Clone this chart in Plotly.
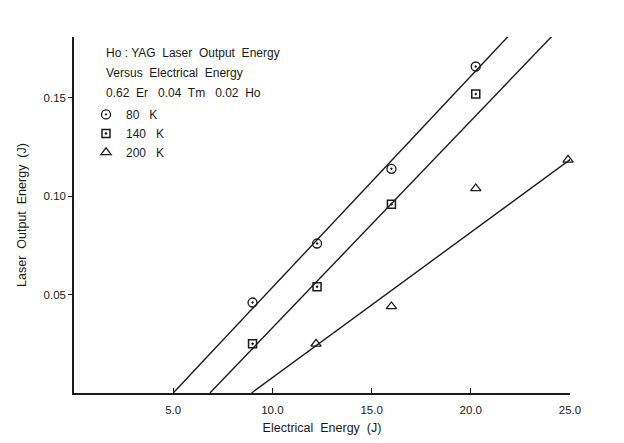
import plotly.graph_objects as go

# Data
x_80 = [9.0, 12.25, 16.0, 20.25]
y_80 = [0.046, 0.076, 0.114, 0.166]
x_140 = [9.0, 12.25, 16.0, 20.25, 24.9]
y_140 = [0.025, 0.054, 0.096, 0.152, 0.1855]
x_200 = [12.2, 16.0, 20.25, 24.9]
y_200 = [0.025, 0.044, 0.104, 0.1185]

fit_80_x = [5.0, 21.9]
fit_80_y = [0.0, 0.1815]
fit_140_x = [6.85, 24.1]
fit_140_y = [0.0, 0.1815]
fit_200_x = [8.95, 25.25]
fit_200_y = [0.0, 0.1205]

x_ticks = [5, 10, 15, 20, 25]
x_tick_labels = ["5.0", "10.0", "15.0", "20.0", "25.0"]
y_ticks = [0.05, 0.10, 0.15]
y_tick_labels = ["0.05", "0.10", "0.15"]

title_lines = ["Ho : YAG  Laser  Output  Energy",
               "Versus  Electrical  Energy",
               "0.62  Er   0.04  Tm   0.02  Ho"]
series_names = ["80   K", "140   K", "200   K"]

FONT = "Liberation Sans, Arial, sans-serif"
ink = "#1a1a1a"

# page body has an 8px margin; figure sized to fit inside the window
OFF = 8
W, H = 608, 427
L, T = 74 - OFF, 37 - OFF
R = W - (570 - OFF)
B = H - (393.5 - OFF)
pw, ph = W - L - R, H - T - B


def page_to_paper(xp, yp):
    return (xp - OFF - L) / pw, (H - B - (yp - OFF)) / ph


fig = go.Figure()
for fx, fy in [(fit_80_x, fit_80_y), (fit_140_x, fit_140_y), (fit_200_x, fit_200_y)]:
    fig.add_trace(go.Scatter(x=fx, y=fy, mode="lines", line=dict(color=ink, width=1.4),
                             showlegend=False, hoverinfo="skip"))

fig.add_trace(go.Scatter(x=x_80, y=y_80, mode="markers", name=series_names[0],
                         marker=dict(symbol="circle-open-dot", size=9, color=ink, line=dict(width=1.3)),
                         cliponaxis=False))
fig.add_trace(go.Scatter(x=x_140, y=y_140, mode="markers", name=series_names[1],
                         marker=dict(symbol="square-open-dot", size=8, color=ink, line=dict(width=1.5)),
                         cliponaxis=False))
fig.add_trace(go.Scatter(x=x_200, y=y_200, mode="markers", name=series_names[2],
                         marker=dict(symbol="triangle-up-open", size=9, color=ink, line=dict(width=1.3)),
                         cliponaxis=False))

for i, t in enumerate(title_lines):
    ax, ay = page_to_paper(104, 53 + 20 * i)
    fig.add_annotation(x=ax, y=ay, xref="paper", yref="paper", text=t,
                       showarrow=False, xanchor="left", yanchor="middle",
                       font=dict(family=FONT, size=12, color=ink))

lx, ly = page_to_paper(86, 100)
fig.update_layout(
    width=W, height=H,
    margin=dict(l=L, r=R, t=T, b=B, autoexpand=False),
    paper_bgcolor="white", plot_bgcolor="white",
    font=dict(family=FONT, size=11, color=ink),
    showlegend=True,
    legend=dict(x=lx, y=ly, xref="paper", yref="paper",
                xanchor="left", yanchor="top",
                font=dict(family=FONT, size=12, color=ink),
                bgcolor="rgba(0,0,0,0)", itemwidth=30, tracegroupgap=0),
    xaxis=dict(range=[0, 25], tickvals=x_ticks, ticktext=x_tick_labels,
               showgrid=False, zeroline=False, showline=True, linecolor=ink, linewidth=2,
               ticks="inside", ticklen=5, tickcolor=ink, tickwidth=1.2,
               ticklabelstandoff=5,
               title=dict(text="Electrical  Energy  (J)", font=dict(family=FONT, size=12.5), standoff=18),
               tickfont=dict(family=FONT, size=11.5)),
    yaxis=dict(range=[0, 0.181], tickvals=y_ticks, ticktext=y_tick_labels,
               showgrid=False, zeroline=False, showline=True, linecolor=ink, linewidth=1.5,
               ticks="outside", ticklen=4, tickcolor=ink, tickwidth=1.2,
               title=dict(text="Laser  Output  Energy  (J)", font=dict(family=FONT, size=12.5), standoff=14),
               tickfont=dict(family=FONT, size=11.5)),
)

fig.write_html("out.html")
